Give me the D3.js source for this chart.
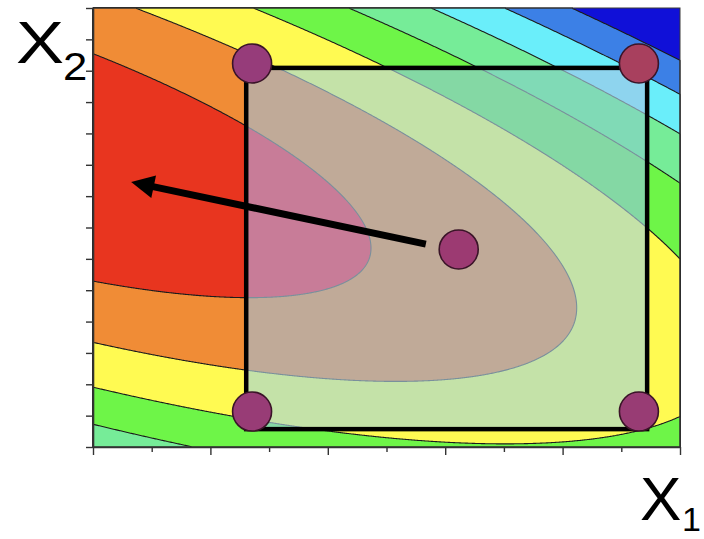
<!DOCTYPE html>
<html>
<head>
<meta charset="utf-8">
<script src="https://cdn.jsdelivr.net/npm/d3@7"></script>
<style>
  html, body { margin: 0; padding: 0; background: #fff; }
  svg { display: block; }
</style>
</head>
<body>
<svg id="chart" width="704" height="539"></svg>
<script>
// fitted response surface: y = b0 + b1*x1 + b2*x2 + b11*x1^2 + b22*x2^2 + b12*x1*x2
const modelCoefs = [5.31, 0.4595, 0.9916, -0.0323, -0.0556, -0.0604];

// contour levels, colour of the band above each level (first = below lowest)
const levels = [3, 4, 5, 6, 7, 8, 9];
const bandColors = ["#1010d8", "#3c80e6", "#6aeefa", "#76ec98", "#6ef548", "#fffa52", "#f08c36", "#e8351f"];
const regionColors = ["#5a5ad6", "#7ea8e8", "#8ed4ee", "#80dab6", "#84d8a4", "#c4e2a8", "#c0aa98", "#c87c98"];

// axis ticks
const x1Ticks = [0, 1, 2, 3, 4, 5, 6, 7, 8, 9, 10];
const x2Ticks = [0, 1, 2, 3, 4, 5, 6, 7, 8, 9, 10, 11, 12, 13, 14];

// experimental region and design points
const regionX1 = [2.61, 9.44];
const regionX2 = [0.57, 12.09];
const designX1 = [2.71, 9.30, 2.71, 9.30, 6.23];
const designX2 = [12.23, 12.23, 1.13, 1.13, 6.30];
const designFill = ["#963c7a", "#a8405e", "#983c76", "#983c74", "#9c3a72"];

// steepest ascent arrow (tail, tip)
const arrowX1 = [5.67, 0.65];
const arrowX2 = [6.47, 8.45];

const svg = d3.select("#chart");
const margin = { top: 8, right: 24, bottom: 92, left: 93 };
const width = 704 - margin.left - margin.right;
const height = 539 - margin.top - margin.bottom;

const x = d3.scaleLinear().domain([0, 10]).range([margin.left, margin.left + width]);
const y = d3.scaleLinear().domain([0, 14]).range([margin.top + height, margin.top]);

function model(a, b) {
  const c = modelCoefs;
  return c[0] + c[1] * a + c[2] * b + c[3] * a * a + c[4] * b * b + c[5] * a * b;
}

// sample the surface on a 1px grid
const step = 1;
const nx = Math.round(width / step);
const ny = Math.round(height / step);
const values = new Float64Array(nx * ny);
for (let j = 0; j < ny; j++) {
  for (let i = 0; i < nx; i++) {
    values[j * nx + i] = model(
      x.invert(margin.left + (i + 0.5) * step),
      y.invert(margin.top + (j + 0.5) * step)
    );
  }
}
const contours = d3.contours().size([nx, ny]).thresholds(levels)(values);
const path = d3.geoPath(d3.geoTransform({
  point(px, py) { this.stream.point(margin.left + px * step, margin.top + py * step); }
}));

// outside colouring
const outer = svg.append("g");
outer.append("rect")
  .attr("x", margin.left).attr("y", margin.top)
  .attr("width", width).attr("height", height)
  .attr("fill", bandColors[0]);
outer.selectAll("path")
  .data(contours)
  .join("path")
  .attr("d", path)
  .attr("fill", (d, i) => bandColors[i + 1])
  .attr("stroke", "#1c1c1c")
  .attr("stroke-width", 1.1);

// washed-out colouring inside the experimental region
const rx0 = x(regionX1[0]), rx1 = x(regionX1[1]);
const ry0 = y(regionX2[1]), ry1 = y(regionX2[0]);
svg.append("clipPath").attr("id", "region")
  .append("rect")
  .attr("x", rx0).attr("y", ry0)
  .attr("width", rx1 - rx0).attr("height", ry1 - ry0);

const inner = svg.append("g").attr("clip-path", "url(#region)");
inner.append("rect")
  .attr("x", margin.left).attr("y", margin.top)
  .attr("width", width).attr("height", height)
  .attr("fill", regionColors[0]);
inner.selectAll("path")
  .data(contours)
  .join("path")
  .attr("d", path)
  .attr("fill", (d, i) => regionColors[i + 1])
  .attr("stroke", "#7a909c")
  .attr("stroke-width", 1.1);

// frame and axes
svg.append("rect")
  .attr("x", margin.left).attr("y", margin.top)
  .attr("width", width).attr("height", height)
  .attr("fill", "none")
  .attr("stroke", "#3a3a3a")
  .attr("stroke-width", 1);

const xAxis = d3.axisBottom(x).tickValues(x1Ticks).tickFormat("").tickSize(8).tickSizeOuter(0);
const yAxis = d3.axisLeft(y).tickValues(x2Ticks).tickFormat("").tickSize(7).tickSizeOuter(0);

const gx = svg.append("g")
  .attr("transform", `translate(0,${margin.top + height})`)
  .call(xAxis);
gx.selectAll(".tick line").attr("y2", (d) => (d % 2 === 0 ? 8 : 5));
const gy = svg.append("g")
  .attr("transform", `translate(${margin.left},0)`)
  .call(yAxis);
[gx, gy].forEach((g) => {
  g.select(".domain").attr("stroke", "#333").attr("stroke-width", 1.6);
  g.selectAll(".tick line").attr("stroke", "#333").attr("stroke-width", 1.4);
});

// experimental region outline
svg.append("rect")
  .attr("x", rx0).attr("y", ry0)
  .attr("width", rx1 - rx0).attr("height", ry1 - ry0)
  .attr("fill", "none")
  .attr("stroke", "#000")
  .attr("stroke-width", 4.5);

// arrow
const ax0 = x(arrowX1[0]), ay0 = y(arrowX2[0]);
const ax1 = x(arrowX1[1]), ay1 = y(arrowX2[1]);
const len = Math.hypot(ax1 - ax0, ay1 - ay0);
const ux = (ax1 - ax0) / len, uy = (ay1 - ay0) / len;
const headLen = 23, headHalf = 11.5;
const bx = ax1 - ux * headLen, by = ay1 - uy * headLen;
svg.append("line")
  .attr("x1", ax0).attr("y1", ay0)
  .attr("x2", bx + ux * 2).attr("y2", by + uy * 2)
  .attr("stroke", "#000")
  .attr("stroke-width", 7);
svg.append("path")
  .attr("d", `M${ax1},${ay1}L${bx - uy * headHalf},${by + ux * headHalf}L${bx + uy * headHalf},${by - ux * headHalf}Z`)
  .attr("fill", "#000");

// design points
svg.selectAll("circle.pt")
  .data(designX1.map((d, i) => ({ x1: d, x2: designX2[i], fill: designFill[i] })))
  .join("circle")
  .attr("class", "pt")
  .attr("cx", (d) => x(d.x1))
  .attr("cy", (d) => y(d.x2))
  .attr("r", 19.5)
  .attr("fill", (d) => d.fill)
  .attr("stroke", "#3a1428")
  .attr("stroke-width", 1.6);

// axis labels
const font = "'Liberation Sans', Arial, Helvetica, sans-serif";
svg.append("text")
  .attr("transform", "translate(16,63) scale(1.2,1)")
  .attr("font-family", font).attr("font-size", 60).attr("fill", "#000")
  .text("X");
svg.append("text")
  .attr("transform", "translate(63,80) scale(1.15,1)")
  .attr("font-family", font).attr("font-size", 38).attr("fill", "#000")
  .text("2");
svg.append("text")
  .attr("x", 640).attr("y", 520)
  .attr("font-family", font).attr("font-size", 62).attr("fill", "#000")
  .text("X");
svg.append("text")
  .attr("x", 682).attr("y", 531)
  .attr("font-family", font).attr("font-size", 34).attr("fill", "#000")
  .text("1");
</script>
</body>
</html>
